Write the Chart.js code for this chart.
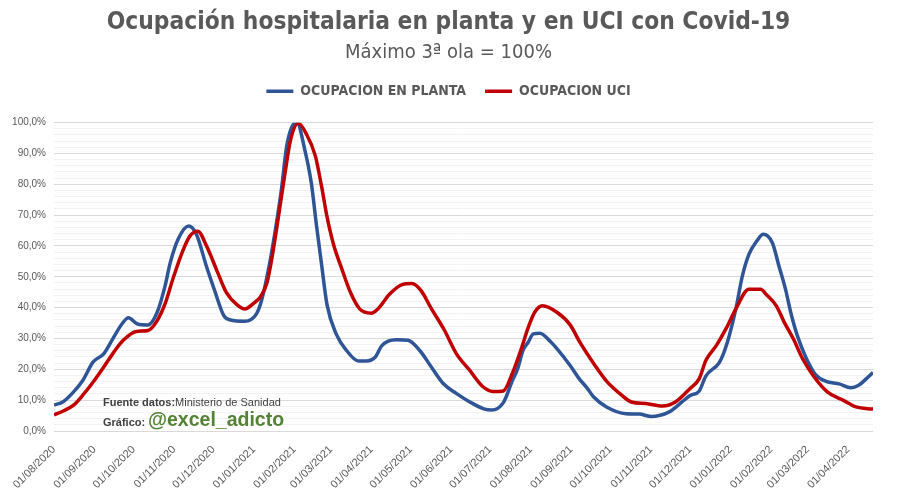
<!DOCTYPE html>
<html>
<head>
<meta charset="utf-8">
<script src="https://cdn.jsdelivr.net/npm/chart.js@4.4.1/dist/chart.umd.min.js"></script>
<style>
  html, body { margin: 0; padding: 0; background: #fff; }
</style>
</head>
<body>
<canvas id="grafico" width="897" height="502"></canvas>
<script>
// Eje X: días contados desde el 01/08/2020
const diasMes = [0, 31, 61, 92, 122, 153, 184, 212, 243, 273, 304, 334, 365, 396, 426, 457, 487, 518, 549, 577, 608];
const etiquetasMes = ['01/08/2020', '01/09/2020', '01/10/2020', '01/11/2020', '01/12/2020', '01/01/2021',
  '01/02/2021', '01/03/2021', '01/04/2021', '01/05/2021', '01/06/2021', '01/07/2021', '01/08/2021',
  '01/09/2021', '01/10/2021', '01/11/2021', '01/12/2021', '01/01/2022', '01/02/2022', '01/03/2022', '01/04/2022'];
const ultimoDia = 627;

// Ocupación en planta (% sobre el máximo de la 3ª ola)
const diasPlanta = [0, 7, 15, 22, 30, 38, 45, 52, 57, 64, 72, 79, 85, 89, 95, 103, 109, 117, 123, 130, 135, 146,
  155, 159, 164, 169, 174, 178, 182, 186, 192, 197, 201, 205, 209, 216, 224, 233, 239, 246, 251, 262, 271, 280,
  289, 298, 308, 318, 329, 335, 344, 351, 355, 359, 363, 367, 372, 380, 385, 395, 402, 408, 413, 423, 438, 448,
  457, 471, 481, 487, 494, 499, 509, 512, 517, 522, 527, 532, 538, 543, 550, 555, 560, 564, 569, 576, 583, 591,
  601, 610, 616, 622, 627];
const planta = [8.4, 9.5, 12.7, 16.4, 22.4, 25, 29.9, 34.7, 36.7, 34.7, 34.4, 38.5, 47, 54.6, 62.2, 66.5, 63.8, 53,
  45.5, 37.4, 36, 35.6, 38, 42.5, 52, 64, 78, 92, 98.5, 100, 91.2, 80.4, 66.5, 53.5, 41, 31.5, 26.1, 22.7, 22.7,
  24, 27.7, 29.6, 29.4, 26.1, 20.7, 15.4, 12.2, 9.5, 7.2, 6.8, 9.2, 16.4, 20.2, 26.1, 28.8, 31.5, 31.7, 29, 26.7,
  21.3, 17, 14, 11.1, 7.8, 5.6, 5.5, 4.7, 6.2, 9.5, 11.5, 13, 17.8, 22, 24.5, 31, 39.6, 50.3, 57.3, 61.6, 63.8,
  61, 53.5, 46, 38.5, 31, 23.5, 18.3, 16.1, 15.3, 14, 14.8, 17, 19];

// Ocupación UCI (% sobre el máximo de la 3ª ola)
const diasUci = [0, 7, 15, 22, 30, 38, 45, 53, 63, 72, 79, 85, 91, 98, 104, 110, 117, 125, 132, 140, 146, 153, 158,
  163, 167, 172, 177, 181, 187, 193, 200, 205, 209, 214, 220, 227, 234, 243, 248, 257, 266, 274, 281, 289, 299, 308,
  318, 328, 336, 344, 351, 358, 363, 368, 374, 385, 395, 403, 413, 423, 433, 442, 453, 466, 476, 487, 494, 499, 507,
  515, 522, 532, 541, 545, 553, 559, 566, 573, 582, 592, 604, 614, 627];
const uci = [5.2, 6.5, 8.4, 11.6, 15.9, 20.7, 25.1, 29.4, 32.3, 32.6, 35.8, 41.2, 49.3, 57.8, 63.2, 64.8, 59.8, 51.7,
  44.9, 41, 39.6, 41.5, 43.5, 48, 56.5, 70, 84, 94.2, 99.8, 96.5, 89.3, 79, 69.5, 60.5, 53, 44.9, 39.6, 38.2, 39.6,
  44.4, 47.4, 47.8, 45.5, 39.6, 32.6, 25.1, 19.8, 14.5, 12.8, 13, 18.8, 27, 33.5, 38.5, 40.6, 38.5, 34.5, 28.5, 22,
  16.2, 12.2, 9.4, 8.9, 8.1, 9.5, 13.8, 17, 22.9, 27.7, 33.6, 39.6, 46, 46, 44.4, 40.6, 35.3, 29.9, 23.5, 17.5,
  12.7, 10, 7.8, 7.1];

const gris = '#595959';
const fuenteEje = 'Liberation Sans';
const fuenteTitulo = 'DejaVu Sans Condensed';

// textos de fuente y autor dentro del gráfico
const notas = {
  id: 'notas',
  afterDraw(chart) {
    const c = chart.ctx;
    const x0 = chart.chartArea.left + 49;
    c.save();
    c.textAlign = 'left';
    c.textBaseline = 'alphabetic';
    c.fillStyle = '#404040';
    c.font = 'bold 11px ' + fuenteEje;
    c.fillText('Fuente datos:', x0, 406);
    const w = c.measureText('Fuente datos:').width;
    c.font = '11px ' + fuenteEje;
    c.fillText('Ministerio de Sanidad', x0 + w, 406);
    c.font = 'bold 11px ' + fuenteEje;
    c.fillText('Gráfico:', x0, 426);
    c.fillStyle = '#548235';
    c.font = 'bold 19.5px ' + fuenteEje;
    c.fillText('@excel_adicto', x0 + 45, 426);
    c.restore();
  }
};

// deja hueco bajo la leyenda y evita que se recorten las etiquetas del eje Y
const ajustes = {
  id: 'ajustes',
  beforeInit(chart) {
    const fit = chart.legend.fit;
    chart.legend.fit = function () {
      fit.call(this);
      this.height += 14.5;
    };
  },
  afterLayout(chart) {
    chart.scales.y.left = 0;
  }
};

new Chart(document.getElementById('grafico'), {
  type: 'line',
  data: {
    datasets: [
      {
        label: 'OCUPACION EN PLANTA',
        data: diasPlanta.map((d, i) => ({ x: d, y: planta[i] })),
        borderColor: '#2F5597',
        backgroundColor: '#2F5597',
        borderWidth: 3.5,
        pointRadius: 0,
        pointStyle: 'line',
        cubicInterpolationMode: 'monotone',
        order: 1
      },
      {
        label: 'OCUPACION UCI',
        data: diasUci.map((d, i) => ({ x: d, y: uci[i] })),
        borderColor: '#C00000',
        backgroundColor: '#C00000',
        borderWidth: 3.5,
        pointRadius: 0,
        pointStyle: 'line',
        cubicInterpolationMode: 'monotone',
        order: 0
      }
    ]
  },
  options: {
    responsive: false,
    animation: false,
    layout: { padding: { left: 24, right: 24, top: 0, bottom: 0 } },
    plugins: {
      title: {
        display: true,
        text: 'Ocupación hospitalaria en planta y en UCI con Covid-19',
        color: gris,
        font: { family: fuenteTitulo, size: 24.3, weight: 'bold', lineHeight: 1.2 },
        padding: { top: 8, bottom: 0 }
      },
      subtitle: {
        display: true,
        text: 'Máximo 3ª ola = 100%',
        color: gris,
        font: { family: fuenteTitulo, size: 20, weight: 'normal', lineHeight: 1.2 },
        padding: { top: 4, bottom: 0 }
      },
      legend: {
        labels: {
          color: gris,
          font: { family: fuenteTitulo, size: 14, weight: 'bold' },
          usePointStyle: true,
          pointStyleWidth: 27,
          padding: 19,
          sort: (a, b) => a.datasetIndex - b.datasetIndex
        }
      },
      tooltip: { enabled: false }
    },
    scales: {
      x: {
        type: 'linear',
        min: 0,
        max: ultimoDia,
        grid: { display: false },
        border: { display: false },
        afterBuildTicks: (scale) => { scale.ticks = diasMes.map(v => ({ value: v })); },
        afterFit: (scale) => { scale.height = 71; },
        ticks: {
          autoSkip: false,
          maxRotation: 45,
          minRotation: 45,
          padding: 4,
          color: gris,
          font: { family: fuenteEje, size: 11 },
          callback: (v) => etiquetasMes[diasMes.indexOf(v)]
        }
      },
      y: {
        min: 0,
        max: 100,
        border: { display: false },
        grid: {
          drawTicks: false,
          color: (ctx) => ctx.tick.value % 10 === 0 ? '#D9D9D9' : '#F2F2F2'
        },
        afterFit: (scale) => { scale.width = 30; },
        ticks: {
          stepSize: 2,
          autoSkip: false,
          padding: 8,
          color: gris,
          font: { family: fuenteEje, size: 10 },
          callback: (v) => v % 10 === 0 ? v.toFixed(1).replace('.', ',') + '%' : ''
        }
      }
    }
  },
  plugins: [notas, ajustes]
});
</script>
</body>
</html>
